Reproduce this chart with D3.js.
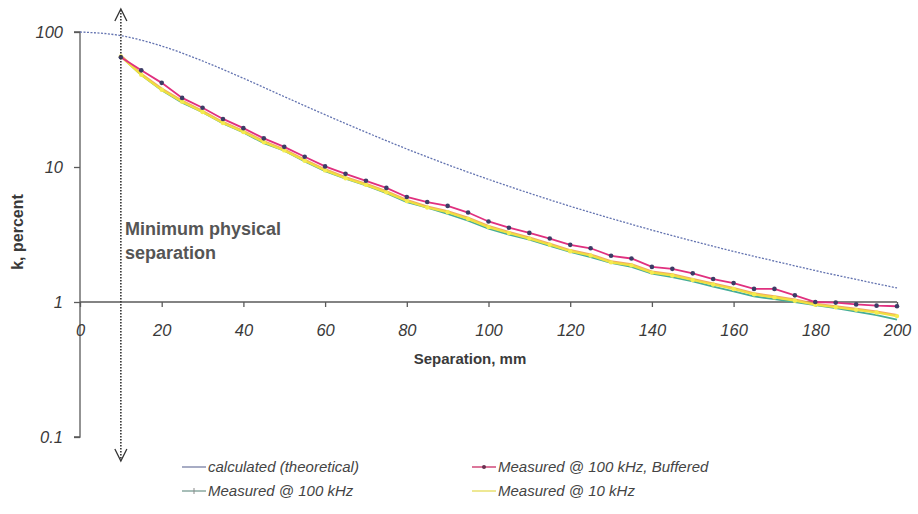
<!DOCTYPE html>
<html>
<head>
<meta charset="utf-8">
<script src="https://cdn.jsdelivr.net/npm/d3@7"></script>
<style>
  html, body { margin: 0; padding: 0; background: #fff; }
  svg { display: block; font-family: "Liberation Sans", Arial, sans-serif; }
</style>
</head>
<body>
<svg id="chart" width="918" height="514"></svg>
<script>
// ---- data ----
const theoryX = [0, 10, 20, 30, 40, 50, 60, 70, 80, 90, 100, 110, 120, 130, 140, 150, 160, 170, 180, 190, 200];
const theoryK = [100, 94, 78.7, 61, 45.4, 33.2, 24.4, 18.1, 13.6, 10.4, 8.1, 6.4, 5.12, 4.16, 3.41, 2.83, 2.37, 2.01, 1.71, 1.47, 1.27];

const measX = [10, 15, 20, 25, 30, 35, 40, 45, 50, 55, 60, 65, 70, 75, 80, 85, 90, 95, 100,
               105, 110, 115, 120, 125, 130, 135, 140, 145, 150, 155, 160, 165, 170, 175, 180, 185, 190, 195, 200];
const buffered100k = [65, 52, 42, 32.5, 27.5, 22.7, 19.4, 16.3, 14.1, 11.9, 10.1, 8.9, 7.9, 7.0, 6.0, 5.5, 5.15, 4.6, 3.95,
                      3.55, 3.25, 2.95, 2.65, 2.5, 2.2, 2.1, 1.82, 1.76, 1.63, 1.48, 1.38, 1.25, 1.25, 1.12, 1.0, 0.99, 0.96, 0.94, 0.93];
const meas100k = [66, 48, 37, 30, 25.5, 21, 18, 15, 13.2, 11, 9.3, 8.2, 7.3, 6.4, 5.5, 5.0, 4.5, 4.0, 3.5,
                  3.15, 2.9, 2.6, 2.35, 2.15, 1.95, 1.82, 1.62, 1.53, 1.42, 1.3, 1.2, 1.1, 1.05, 1.0, 0.95, 0.9, 0.85, 0.8, 0.74];
const meas10k = [67, 49, 38, 31, 26, 21.5, 18.5, 15.5, 13.5, 11.3, 9.6, 8.4, 7.5, 6.6, 5.7, 5.1, 4.7, 4.2, 3.65,
                 3.3, 3.0, 2.7, 2.42, 2.25, 2.0, 1.9, 1.68, 1.6, 1.48, 1.37, 1.27, 1.16, 1.1, 1.04, 0.97, 0.93, 0.89, 0.85, 0.80];

const xTicks = [0, 20, 40, 60, 80, 100, 120, 140, 160, 180, 200];
const yTicks = [0.1, 1, 10, 100];
const yTickLabels = ["0.1", "1", "10", "100"];
const minSeparation = 10;

const legendLabels = ["calculated (theoretical)", "Measured @ 100 kHz, Buffered", "Measured @ 100 kHz", "Measured @ 10 kHz"];

// ---- chart ----
const svg = d3.select("#chart");
const x = d3.scaleLinear().domain([0, 200]).range([80, 897]);
const y = d3.scaleLog().domain([0.1, 100]).range([437, 32]);

const axisColor = "#5a5a5a";
const textColor = "#3a3a3a";
const FONT = "'Liberation Sans', Arial, sans-serif";

// Y axis
const yAxis = d3.axisLeft(y).tickValues(yTicks).tickFormat((d, i) => yTickLabels[i]).tickSize(6).tickPadding(11);
const gy = svg.append("g").attr("transform", `translate(${x(0)},0)`).call(yAxis);
gy.select(".domain").attr("stroke", axisColor).attr("stroke-width", 1.3).attr("d", `M-6,${y(100)}H0V${y(0.1)}H-6`);
gy.selectAll(".tick line").attr("stroke", axisColor).attr("stroke-width", 1.3);
gy.selectAll(".tick text").attr("fill", textColor).attr("font-size", 16.5).attr("font-style", "italic")
  .attr("font-family", FONT);

// X axis at k = 1
const xAxis = d3.axisBottom(x).tickValues(xTicks).tickFormat(d3.format("d")).tickSize(5).tickPadding(17);
const gx = svg.append("g").attr("transform", `translate(0,${y(1)})`).call(xAxis);
gx.select(".domain").attr("stroke", axisColor).attr("stroke-width", 1.3).attr("d", `M${x(0)},0H${x(200)}`);
gx.selectAll(".tick line").attr("stroke", axisColor).attr("stroke-width", 1.3);
gx.selectAll(".tick text").attr("fill", textColor).attr("font-size", 16.5).attr("font-style", "italic")
  .attr("font-family", FONT);

// axis titles
svg.append("text").attr("x", 470).attr("y", 364).attr("text-anchor", "middle")
  .attr("font-size", 15).attr("font-weight", "bold").attr("fill", textColor).text("Separation, mm");
svg.append("text").attr("transform", "translate(23,232) rotate(-90)").attr("text-anchor", "middle")
  .attr("font-size", 16).attr("font-weight", "bold").attr("fill", textColor).text("k, percent");

// series
const line = d3.line().x(d => x(d[0])).y(d => y(d[1]));
const zip = (xs, ys) => xs.map((v, i) => [v, ys[i]]);

svg.append("path").datum(zip(theoryX, theoryK)).attr("d", line.curve(d3.curveMonotoneX))
  .attr("fill", "none").attr("stroke", "#6373b0").attr("stroke-width", 1.3).attr("stroke-dasharray", "2,1.5");

const lin = d3.line().x(d => x(d[0])).y(d => y(d[1]));

svg.append("path").datum(zip(measX, meas100k)).attr("d", lin)
  .attr("fill", "none").attr("stroke", "#45ad98").attr("stroke-width", 1.8);
svg.append("path").datum(zip(measX, meas10k)).attr("d", lin)
  .attr("fill", "none").attr("stroke", "#f09a48").attr("stroke-width", 2.2).attr("stroke-opacity", 0.85);
svg.append("path").datum(zip(measX, meas10k)).attr("d", lin)
  .attr("fill", "none").attr("stroke", "#f0e040").attr("stroke-width", 2.2).attr("transform", "translate(0,1)");
svg.selectAll("circle.y10").data(zip(measX, meas10k)).enter().append("circle")
  .attr("cx", d => x(d[0])).attr("cy", d => y(d[1]) + 1).attr("r", 2.2).attr("fill", "#f4ec50");
svg.append("path").datum(zip(measX, buffered100k)).attr("d", lin)
  .attr("fill", "none").attr("stroke", "#e0307f").attr("stroke-width", 1.8);
svg.selectAll("circle.mag").data(zip(measX, buffered100k)).enter().append("circle")
  .attr("cx", d => x(d[0])).attr("cy", d => y(d[1])).attr("r", 2.3).attr("fill", "#3c3c66");

// minimum separation arrow
const ax = x(minSeparation);
svg.append("line").attr("x1", ax).attr("x2", ax).attr("y1", 10).attr("y2", 460)
  .attr("stroke", "#333").attr("stroke-width", 1.6).attr("stroke-dasharray", "1.5,1.5");
svg.append("path").attr("d", `M${ax - 6},${21}L${ax},${9}L${ax + 6},${21}`)
  .attr("fill", "none").attr("stroke", "#333").attr("stroke-width", 1.3);
svg.append("path").attr("d", `M${ax - 6},${449}L${ax},${461}L${ax + 6},${449}`)
  .attr("fill", "none").attr("stroke", "#333").attr("stroke-width", 1.3);

svg.append("text").attr("x", 125).attr("y", 235).attr("font-size", 18).attr("font-weight", "bold")
  .attr("fill", "#555").text("Minimum physical");
svg.append("text").attr("x", 125).attr("y", 259).attr("font-size", 18).attr("font-weight", "bold")
  .attr("fill", "#555").text("separation");

// legend
const legendItems = [
  { label: legendLabels[0], color: "#8a90b0", lx: 182, ly: 467, marker: null },
  { label: legendLabels[1], color: "#d04a7a", lx: 472, ly: 467, marker: "dot" },
  { label: legendLabels[2], color: "#8aa8a0", lx: 182, ly: 491, marker: "plus" },
  { label: legendLabels[3], color: "#e8e070", lx: 472, ly: 491, marker: null }
];
const lg = svg.append("g");
legendItems.forEach(it => {
  lg.append("line").attr("x1", it.lx).attr("x2", it.lx + 24).attr("y1", it.ly).attr("y2", it.ly)
    .attr("stroke", it.color).attr("stroke-width", 1.5);
  if (it.marker === "dot") {
    lg.append("circle").attr("cx", it.lx + 12).attr("cy", it.ly).attr("r", 2).attr("fill", "#6a3050");
  } else if (it.marker === "plus") {
    lg.append("line").attr("x1", it.lx + 12).attr("x2", it.lx + 12).attr("y1", it.ly - 3).attr("y2", it.ly + 3)
      .attr("stroke", "#8a8a8a").attr("stroke-width", 1);
  }
  lg.append("text").attr("x", it.lx + 26).attr("y", it.ly + 5).attr("font-size", 15).attr("font-style", "italic")
    .attr("fill", "#444").text(it.label);
});
</script>
</body>
</html>
